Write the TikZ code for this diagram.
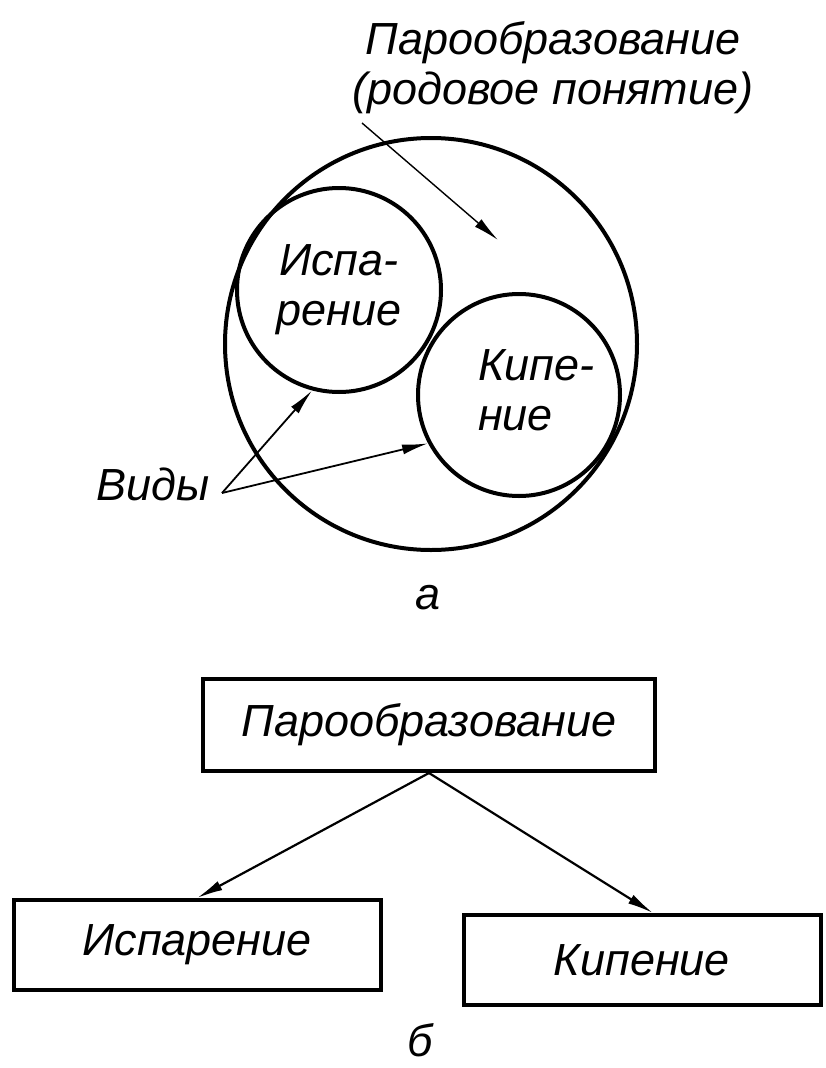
\documentclass[tikz,border=0pt]{standalone}
\usepackage{fontspec}
\setmainfont{Liberation Sans}
\usetikzlibrary{calc}
\usetikzlibrary{positioning}
\usetikzlibrary{arrows.meta}
\newcommand{\gostfont}{\itshape\fontsize{45}{50}\selectfont}

\begin{document}
\begin{tikzpicture}[x=1pt, y=-1pt, inner sep=0.0pt, align=center, font=\gostfont,
    setcirc/.style={circle, draw, line width=4pt},
    termbox/.style={rectangle, draw, line width=4pt, minimum height=92pt},
    pointer/.style={-{Latex[length=26pt, width=10pt]}, line width=1.8pt}]
    \useasboundingbox (0,0) rectangle (825,1068);

    % a) circles
    \node (genus) [setcirc, minimum size=412pt] at (431,344) {};
    \node (evap) [setcirc, minimum size=204pt] at (339,290) {Испа-\\рение};
    \node (boil) [setcirc, minimum size=202pt] at (519,395) {};
    \node (boil_txt) [align=left, anchor=west] at ($(boil.center)+(-41,-5)$) {Кипе-\\ние};

    \node (genus_txt) at (553,68) {Парообразование\\(родовое понятие)};
    \coordinate (genus_from) at (362,123);
    \coordinate (genus_to) at (498,240);
    \draw [pointer, line width=1.4pt] (genus_from) -- (genus_to);

    \node (kinds) at (153,484) {Виды};
    \coordinate (kinds_tip) at (222,493);
    \draw [pointer] (kinds_tip) -- (evap.255);
    \draw [pointer] (kinds_tip) -- (boil.208);

    \node (fig_a) at (428,598) {а};

    % b) tree
    \node (para_box) [termbox, minimum width=452pt] at (429,725) {Парообразование};
    \node (evap_box) [termbox, minimum width=367pt, minimum height=90pt] at (197,945) {Испарение};
    \node (boil_box) [termbox, minimum width=357pt, minimum height=90pt] at (642,960) {Кипение};

    \draw [pointer, line width=2.2pt] (para_box.south) -- (evap_box.north);
    \draw [pointer, line width=2.2pt] (para_box.south) -- ($(boil_box.north)+(11,0)$);

    \node (fig_b) at (420,1040) {б};
\end{tikzpicture}
\end{document}
